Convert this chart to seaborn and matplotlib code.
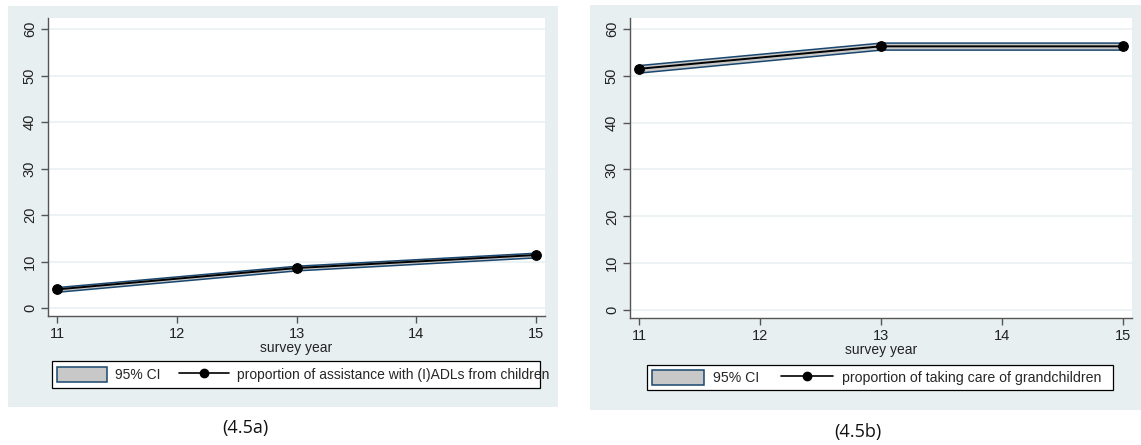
import matplotlib
matplotlib.use("Agg")
import matplotlib.pyplot as plt
from matplotlib.patches import Rectangle, Patch
from matplotlib.lines import Line2D
import seaborn as sns

# Survey waves
years = [11, 13, 15]

# (4.5a) assistance with (I)ADLs from children, %
adl_prop = [4.0, 8.6, 11.4]
adl_lo = [3.5, 8.1, 10.9]
adl_hi = [4.5, 9.1, 11.9]

# (4.5b) taking care of grandchildren, %
gc_prop = [51.5, 56.3, 56.3]
gc_lo = [50.7, 55.6, 55.6]
gc_hi = [52.3, 57.1, 57.1]

xticks = [11, 12, 13, 14, 15]
yticks = [0, 10, 20, 30, 40, 50, 60]
xlabel = "survey year"
ci_label = "95% CI"
labels = ["proportion of assistance with (I)ADLs from children",
          "proportion of taking care of grandchildren"]
captions = ["(4.5a)", "(4.5b)"]

sns.set_theme(style="white")
plt.rcParams["font.family"] = ["Liberation Sans", "DejaVu Sans"]

W, H = 1141, 445
fig = plt.figure(figsize=(W / 100, H / 100), dpi=100)
fig.patch.set_facecolor("white")

BG = "#e8eff1"
GRID = "#eaf1f3"
NAVY = "#1a476f"
FILL = "#c8c8c8"
SPINE = "#555555"


def fx(px):
    return px / W


def fy(py):
    return 1 - py / H


def fig_rect(x0, y0, x1, y1, **kw):
    return Rectangle((fx(x0), fy(y1)), fx(x1 - x0), (y1 - y0) / H,
                     transform=fig.transFigure, **kw)


# panel backgrounds (px boxes: x0, y0, x1, y1)
panels = [(8, 6, 558, 407), (590, 5, 1141, 410)]
for box in panels:
    fig.patches.append(fig_rect(*box, facecolor=BG, edgecolor="none", zorder=-5))

# plot areas (px boxes) and axis limits
areas = [(48, 18, 545, 316), (630, 18, 1132, 318)]
xlims = [(10.925, 15.075), (10.926, 15.074)]
ylims = [(-1.72, 62.4), (-1.71, 62.35)]
legend_boxes = [(52, 361, 540, 388), (647, 365, 1113, 390)]
legend_style = [dict(fontsize=10.0, handlelength=3.6, handletextpad=0.58, columnspacing=1.3),
                dict(fontsize=10.2, handlelength=3.66, handletextpad=0.65, columnspacing=1.5)]
caption_pos = [(245, 428), (858, 432)]

series = [(adl_prop, adl_lo, adl_hi), (gc_prop, gc_lo, gc_hi)]

for i in range(2):
    x0, y0, x1, y1 = areas[i]
    ax = fig.add_axes([fx(x0), fy(y1), fx(x1 - x0), (y1 - y0) / H], zorder=2)
    ax.set_facecolor("white")
    prop, lo, hi = series[i]

    for yv in yticks:
        ax.axhline(yv, color=GRID, lw=1.2, zorder=0)

    ax.fill_between(years, lo, hi, facecolor=FILL, edgecolor=NAVY, lw=1.1, zorder=2)
    sns.lineplot(x=years, y=prop, ax=ax, color="black", lw=1.4, marker="o",
                 markersize=7, markeredgecolor="black", zorder=3, legend=False)

    ax.set_xlim(*xlims[i])
    ax.set_ylim(*ylims[i])
    ax.set_xticks(xticks)
    ax.set_yticks(yticks)
    ax.set_xlabel(xlabel, fontsize=10, labelpad=0, color="#222222")
    ax.set_ylabel("")
    for s in ["top", "right"]:
        ax.spines[s].set_visible(False)
    for s in ["left", "bottom"]:
        ax.spines[s].set_color(SPINE)
        ax.spines[s].set_linewidth(1.0)
    ax.tick_params(axis="both", direction="out", length=5, width=1, color=SPINE,
                   labelsize=10.5, labelcolor="#222222", pad=3, bottom=True, left=True)
    ax.tick_params(axis="y", labelrotation=90)
    for t in ax.get_yticklabels():
        t.set_va("center")

    # legend frame drawn as its own box; legend entries placed inside it
    bx0, by0, bx1, by1 = legend_boxes[i]
    fig.patches.append(fig_rect(bx0, by0, bx1, by1, facecolor="white",
                                edgecolor="black", lw=0.9, zorder=1))
    handles = [Patch(facecolor=FILL, edgecolor=NAVY, lw=1.1),
               Line2D([], [], color="black", lw=1.2, marker="o", markersize=6)]
    leg = fig.legend(handles, [ci_label, labels[i]], ncol=2,
                     loc="center left", bbox_to_anchor=(fx(bx0 + 1), fy((by0 + by1) / 2)),
                     bbox_transform=fig.transFigure, borderaxespad=0,
                     frameon=False, handleheight=1.3, borderpad=0.3,
                     **legend_style[i])
    leg.set_zorder(3)

    cx, cy = caption_pos[i]
    fig.text(fx(cx), fy(cy), captions[i], ha="center", va="center",
             fontsize=13, family=["Open Sans", "DejaVu Sans"], color="#111111")

fig.savefig("out.png", dpi=100, facecolor="white")
